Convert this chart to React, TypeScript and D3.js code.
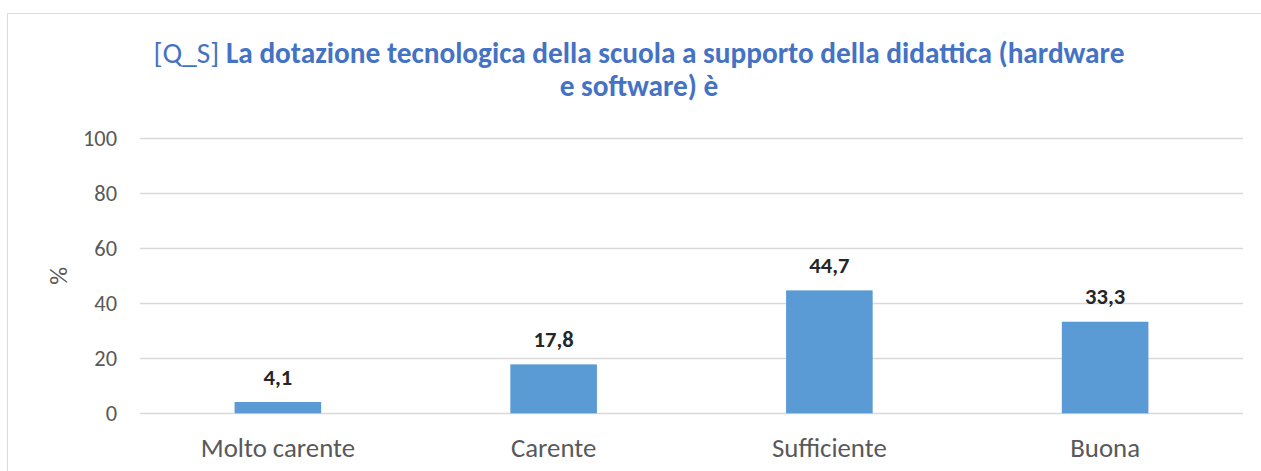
import React from "react";
import * as d3 from "d3";

const categories: string[] = ["Molto carente", "Carente", "Sufficiente", "Buona"];
const values: number[] = [4.1, 17.8, 44.7, 33.3];
const yTicks: number[] = [0, 20, 40, 60, 80, 100];
const titlePrefix = "[Q_S] ";
const titleLine1 = "La dotazione tecnologica della scuola a supporto della didattica (hardware";
const titleLine2 = "e software) è";
const yAxisTitle = "%";

const W = 1261;
const H = 471;
const FONT = "Carlito, Calibri, Lato, 'Open Sans', sans-serif";

export default function App() {
  const left = 140;
  const right = 1243;
  const top = 138.3;
  const bottom = 413.3;

  const x = d3.scaleBand<string>().domain(categories).range([left, right]).padding(0);
  const y = d3.scaleLinear().domain([0, 100]).range([bottom, top]);
  const barW = x.bandwidth() * 0.314;
  const fmt = (v: number) => v.toFixed(1).replace(".", ",");

  return (
    <svg
      width={W}
      height={H}
      style={{ position: "absolute", left: 0, top: 0, background: "#fff" }}
      fontFamily={FONT}
    >
      <rect x={0} y={0} width={W} height={H} fill="#fff" />
      {/* chart border */}
      <line x1={7.5} x2={W} y1={13.5} y2={13.5} stroke="#D9D9D9" strokeWidth={1} />
      <line x1={7.5} x2={7.5} y1={13.5} y2={H} stroke="#D9D9D9" strokeWidth={1} />

      {/* title */}
      <text x={639} y={63} textAnchor="middle" fill="#4472C4" fontSize={29.3}>
        <tspan>{titlePrefix}</tspan>
        <tspan fontWeight="bold">{titleLine1}</tspan>
      </text>
      <text x={639} y={96} textAnchor="middle" fill="#4472C4" fontSize={29.3} fontWeight="bold">
        {titleLine2}
      </text>

      {/* gridlines + ticks */}
      {yTicks.map((t) => (
        <g key={t}>
          <line
            x1={left}
            x2={right}
            y1={Math.round(y(t)) + 0.5}
            y2={Math.round(y(t)) + 0.5}
            stroke="#D9D9D9"
            strokeWidth={1.5}
          />
          <text x={117} y={y(t)} dy="0.35em" textAnchor="end" fill="#595959" fontSize={22.4}>
            {t}
          </text>
        </g>
      ))}

      {/* y axis title */}
      <text
        transform={`translate(${58},${(top + bottom) / 2}) rotate(-90)`}
        textAnchor="middle"
        dy="0.35em"
        fill="#595959"
        fontSize={25}
      >
        {yAxisTitle}
      </text>

      {/* bars */}
      {categories.map((c, i) => {
        const cx = (x(c) as number) + x.bandwidth() / 2;
        return (
          <g key={c}>
            <rect
              x={cx - barW / 2}
              y={y(values[i])}
              width={barW}
              height={bottom - y(values[i])}
              fill="#5B9BD5"
            />
            <text
              x={cx}
              y={y(values[i]) - 17.5}
              textAnchor="middle"
              fill="#262626"
              fontWeight="bold"
              fontSize={22.6}
            >
              {fmt(values[i])}
            </text>
            <text x={cx} y={457} textAnchor="middle" fill="#595959" fontSize={26.8}>
              {c}
            </text>
          </g>
        );
      })}
    </svg>
  );
}
